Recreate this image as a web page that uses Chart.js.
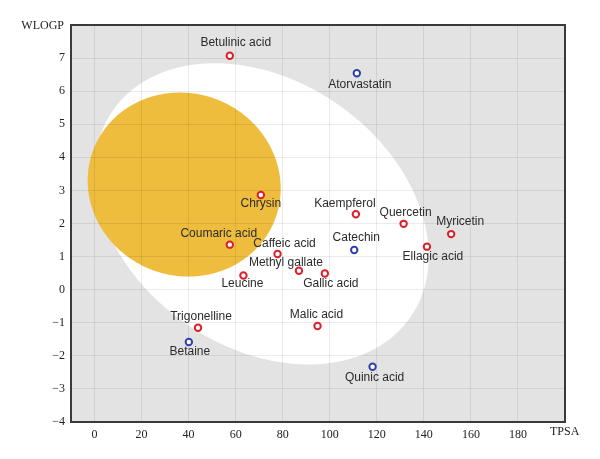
<!DOCTYPE html>
<html>
<head>
<meta charset="utf-8">
<script src="https://cdn.jsdelivr.net/npm/chart.js@4.4.1/dist/chart.umd.min.js"></script>
<style>
  html, body { margin: 0; padding: 0; background: #fff; }
  #wrap { width: 600px; height: 459px; position: relative; }
</style>
</head>
<body>
<div id="wrap"><canvas id="eggChart"></canvas></div>
<script>
// Data
const compounds = ['Betulinic acid', 'Chrysin', 'Atorvastatin', 'Kaempferol', 'Quercetin', 'Myricetin',
    'Ellagic acid', 'Catechin', 'Gallic acid', 'Malic acid', 'Quinic acid', 'Coumaric acid',
    'Caffeic acid', 'Methyl gallate', 'Leucine', 'Trigonelline', 'Betaine'];
const tpsa  = [57.5, 70.7, 111.5, 111.1, 131.4, 151.6, 141.3, 110.4, 97.9, 94.8, 118.2, 57.5, 77.8, 86.9, 63.3, 44.0, 40.1];
const wlogp = [7.07, 2.86, 6.54, 2.28, 1.99, 1.68, 1.30, 1.20, 0.49, -1.10, -2.33, 1.36, 1.08, 0.57, 0.43, -1.15, -1.58];
const pgpSubstrate = [false, false, true, false, false, false, false, true, false, false, true, false, false, false, false, false, true];

const xTicks = [0, 20, 40, 60, 80, 100, 120, 140, 160, 180];
const yTicks = [-4, -3, -2, -1, 0, 1, 2, 3, 4, 5, 6, 7];

// ellipse regions: centre x, centre y, width, height, angle (deg)
const eggWhite = [71.051, 2.292, 142.081, 8.740, -1.031325];
const eggYolk  = [38.117, 3.177, 82.061, 5.557, -0.171887];

// Label placement (pixels from the point to text centre)
const labelOffsets = [[6, -13], [0, 9], [3, 11], [-11, -11], [2, -11], [9, -12],
    [6, 10], [2, -12], [6, 10], [-1, -11], [2, 11], [-11, -11],
    [7, -10], [-13, -8], [-1, 8], [3, -11], [1, 10]];

const redColor = '#dd1f2a';
const blueColor = '#2f3fb0';
const plotBg = '#e3e3e3';

function drawEllipse(ctx, chart, e, fill) {
    const xs = chart.scales.x, ys = chart.scales.y;
    const th = e[4] * Math.PI / 180;
    const a = e[2] / 2, b = e[3] / 2;
    ctx.beginPath();
    for (let i = 0; i <= 360; i++) {
        const t = i * Math.PI / 180;
        const dx = a * Math.cos(t), dy = b * Math.sin(t);
        const px = xs.getPixelForValue(e[0] + dx * Math.cos(th) - dy * Math.sin(th));
        const py = ys.getPixelForValue(e[1] + dx * Math.sin(th) + dy * Math.cos(th));
        if (i === 0) ctx.moveTo(px, py); else ctx.lineTo(px, py);
    }
    ctx.closePath();
    ctx.fillStyle = fill;
    ctx.fill();
}

const eggPlugin = {
    id: 'egg',
    beforeDraw(chart) {
        const ctx = chart.ctx, ca = chart.chartArea;
        ctx.save();
        ctx.fillStyle = plotBg;
        ctx.fillRect(ca.left, ca.top, ca.right - ca.left, ca.bottom - ca.top);
        ctx.beginPath();
        ctx.rect(ca.left, ca.top, ca.right - ca.left, ca.bottom - ca.top);
        ctx.clip();
        drawEllipse(ctx, chart, eggWhite, '#ffffff');
        drawEllipse(ctx, chart, eggYolk, '#eebd3e');
        ctx.restore();
    },
    afterDatasetsDraw(chart) {
        const ctx = chart.ctx;
        const meta = chart.getDatasetMeta(0);
        ctx.save();
        ctx.font = '12px "Liberation Sans", Arial, sans-serif';
        ctx.fillStyle = '#2b2b2b';
        ctx.textAlign = 'center';
        ctx.textBaseline = 'middle';
        meta.data.forEach((pt, i) => {
            ctx.fillText(compounds[i], pt.x + labelOffsets[i][0], pt.y + labelOffsets[i][1]);
        });
        ctx.restore();
    },
    afterDraw(chart) {
        const ctx = chart.ctx, ca = chart.chartArea;
        ctx.save();
        ctx.strokeStyle = '#3a3a3a';
        ctx.lineWidth = 2;
        ctx.strokeRect(ca.left, ca.top, ca.right - ca.left, ca.bottom - ca.top);
        ctx.font = '12px "Liberation Serif", "Times New Roman", serif';
        ctx.fillStyle = '#222';
        ctx.textBaseline = 'middle';
        ctx.textAlign = 'right';
        ctx.fillText('WLOGP', ca.left - 7, ca.top + 1);
        ctx.textAlign = 'left';
        ctx.fillText('TPSA', ca.right - 15, ca.bottom + 10);
        ctx.restore();
    }
};

new Chart(document.getElementById('eggChart').getContext('2d'), {
    type: 'scatter',
    data: {
        datasets: [{
            data: tpsa.map((v, i) => ({ x: v, y: wlogp[i] })),
            pointRadius: 3.2,
            pointHoverRadius: 3.2,
            borderWidth: 2,
            pointBackgroundColor: '#ffffff',
            pointBorderColor: pgpSubstrate.map(p => p ? blueColor : redColor)
        }]
    },
    options: {
        responsive: true,
        maintainAspectRatio: false,
        animation: false,
        layout: { padding: { left: 0, top: 25, right: 35, bottom: 0 } },
        plugins: {
            legend: { display: false },
            tooltip: { enabled: false }
        },
        scales: {
            x: {
                type: 'linear',
                min: -10,
                max: 200,
                afterBuildTicks: s => { s.ticks = xTicks.map(v => ({ value: v })); },
                afterFit: s => { s.height = 37; },
                grid: { color: 'rgba(0,0,0,0.08)', drawTicks: false },
                border: { display: false },
                ticks: {
                    padding: 6,
                    color: '#222',
                    maxRotation: 0,
                    font: { family: '"Liberation Serif", "Times New Roman", serif', size: 12 }
                }
            },
            y: {
                type: 'linear',
                min: -4,
                max: 8,
                afterBuildTicks: s => { s.ticks = yTicks.map(v => ({ value: v })); },
                afterFit: s => { s.width = 71; },
                grid: { color: 'rgba(0,0,0,0.08)', drawTicks: false },
                border: { display: false },
                ticks: {
                    padding: 6,
                    color: '#222',
                    font: { family: '"Liberation Serif", "Times New Roman", serif', size: 12 },
                    callback: v => v < 0 ? '\u2212' + Math.abs(v) : String(v)
                }
            }
        }
    },
    plugins: [eggPlugin]
});
</script>
</body>
</html>
